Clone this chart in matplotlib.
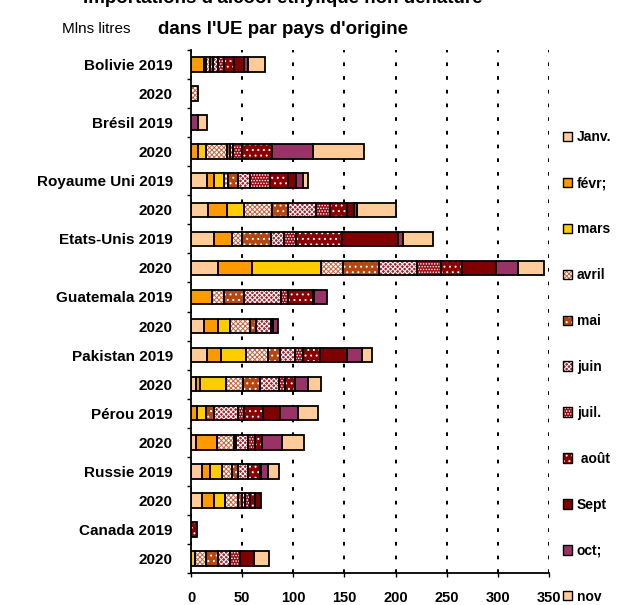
import numpy as np
import matplotlib
matplotlib.use('Agg')
import matplotlib.pyplot as plt
from matplotlib.patches import Patch

plt.rcParams['font.family'] = ['Liberation Sans', 'DejaVu Sans']
plt.rcParams['hatch.linewidth'] = 0.7

rows = ['Bolivie 2019', '2020', 'Brésil 2019', '2020', 'Royaume Uni 2019', '2020',
        'Etats-Unis 2019', '2020', 'Guatemala 2019', '2020', 'Pakistan 2019', '2020',
        'Pérou 2019', '2020', 'Russie 2019', '2020', 'Canada 2019', '2020']
months = ['Janv.', 'févr;', 'mars', 'avril', 'mai', 'juin', 'juil.', ' août', 'Sept', 'oct;', 'nov']

# monthly volumes (Mlns litres), one list per month, rows in the order above
janv  = [0, 0, 0, 0, 15.3, 16.9, 22.7, 26.6, 0, 13.0, 15.3, 4.6, 0, 4.6, 11.1, 11.1, 0, 0]
fevr  = [12.7, 0, 0, 6.5, 7.5, 17.9, 16.9, 33.1, 20.2, 13.7, 14.0, 4.2, 5.5, 21.2, 7.5, 11.4, 0, 0]
mars  = [2.3, 0, 0, 7.8, 9.8, 17.3, 0, 67.5, 0, 11.4, 24.4, 25.1, 8.8, 0, 12.1, 11.1, 0, 4.0]
avril = [3.3, 6.5, 0, 21.2, 3.3, 27.4, 10.4, 21.8, 12.4, 19.5, 21.2, 17.3, 0, 16.6, 9.8, 12.4, 0, 10.4]
mai   = [3.3, 0, 0, 2.6, 10.4, 15.6, 28.6, 35.1, 19.5, 5.5, 12.0, 16.3, 8.5, 2.0, 5.2, 3.9, 0, 12.4]
juin  = [5.2, 0, 0, 3.3, 11.4, 26.7, 12.0, 36.7, 35.8, 15.0, 14.7, 18.6, 23.5, 11.7, 10.4, 3.3, 0, 11.0]
juil  = [5.9, 0, 0, 8.8, 19.5, 14.0, 11.7, 24.0, 7.2, 0, 8.1, 5.9, 5.9, 6.5, 0, 4.2, 0, 10.5]
aout  = [9.8, 0, 0, 29.3, 17.9, 16.3, 45.1, 20.5, 24.4, 2.3, 16.3, 9.8, 18.6, 7.2, 11.4, 5.5, 5.5, 0]
sept  = [9.8, 0, 0, 0, 7.5, 7.5, 54.5, 32.5, 1.0, 0, 27.0, 0, 16.3, 0, 1.0, 5.2, 0, 13.5]
octo  = [3.3, 0, 6.5, 40.0, 7.2, 2.6, 4.9, 22.1, 12.0, 4.9, 13.7, 13.0, 17.9, 19.5, 7.2, 0, 0, 0]
nov   = [16.3, 0, 8.8, 49.8, 4.9, 37.8, 29.9, 25.6, 0, 0, 10.4, 12.0, 19.5, 21.5, 10.4, 0, 0, 14.5]
series = [janv, fevr, mars, avril, mai, juin, juil, aout, sept, octo, nov]

# face colour, hatch, hatch colour
styles = [('#FFCC99', None, 'black'),
          ('#FF9900', None, 'black'),
          ('#FFCC00', None, 'black'),
          ('#FFFFFF', 'xxxxxxx', '#C8643C'),
          ('#B4470F', '...', 'white'),
          ('#A8202A', 'xxxxxxx', 'white'),
          ('#9C0A14', '......', 'white'),
          ('#8B0000', '...', 'white'),
          ('#800000', None, 'black'),
          ('#993366', None, 'black'),
          ('#FFCC99', None, 'black')]

fig = plt.figure(figsize=(6.31, 6.05), dpi=100)
ax = fig.add_axes([191/631, 1 - 573/605, 358/631, 523/605])

y = np.arange(len(rows))
left = np.zeros(len(rows))
handles = []
for vals, (fc, h, hc) in zip(series, styles):
    vals = np.array(vals, dtype=float)
    m = vals > 0
    ax.barh(y[m], vals[m], left=left[m], height=0.5, color=fc, hatch=h,
            edgecolor=hc if h else fc, linewidth=0, zorder=2)
    ax.barh(y[m], vals[m], left=left[m], height=0.5, fill=False,
            edgecolor='black', linewidth=1.3, zorder=3)
    left += vals
    handles.append((Patch(facecolor=fc, hatch=h, edgecolor=hc if h else fc, linewidth=0),
                    Patch(fill=False, edgecolor='black', linewidth=1.0)))

ax.set_xlim(0, 350)
ax.set_ylim(len(rows) - 0.5, -0.5)
ax.set_xticks(np.arange(0, 351, 50))
ax.set_yticks(y)
ax.set_yticklabels(rows)
ax.set_yticks(np.arange(-0.5, len(rows), 1), minor=True)
ax.tick_params(axis='y', which='major', length=0, pad=13, labelsize=11)
ax.tick_params(axis='y', which='minor', length=3, width=1, direction='out')
ax.tick_params(axis='x', length=3, width=1, pad=10, labelsize=10.5)
for t in ax.get_yticklabels() + ax.get_xticklabels():
    t.set_fontweight('bold')

ax.set_axisbelow(True)
ax.xaxis.grid(True, color='black', linewidth=1.44, linestyle=(0, (1.85, 5.0)))
ax.spines['top'].set_visible(False)
ax.spines['right'].set_visible(False)
ax.spines['left'].set_linewidth(1.3)
ax.spines['bottom'].set_linewidth(1.3)

leg = fig.legend(handles, months, loc='center left', bbox_to_anchor=(563/631, 1 - 367/605),
                 frameon=False, borderpad=0, borderaxespad=0, handlelength=0.65,
                 handleheight=0.65, handletextpad=0.35, labelspacing=2.3,
                 prop={'weight': 'bold', 'size': 10})

fig.text(283/631, 1 - 3/605, "Importations d'alcool éthylique non dénaturé",
         ha='center', va='baseline', fontsize=13.5, fontweight='bold')
fig.text(283/631, 1 - 34/605, "dans l'UE par pays d'origine",
         ha='center', va='baseline', fontsize=13.5, fontweight='bold')
fig.text(62/631, 1 - 33/605, 'Mlns litres', ha='left', va='baseline', fontsize=11)

fig.savefig('out.png', dpi=100)
